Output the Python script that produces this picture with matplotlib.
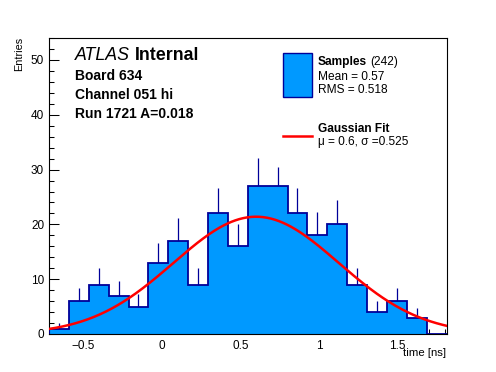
import numpy as np
import matplotlib
matplotlib.use("Agg")
import matplotlib.pyplot as plt
from matplotlib.patches import Rectangle
from matplotlib.lines import Line2D

plt.rcParams['font.family'] = ['Liberation Sans', 'DejaVu Sans']

# histogram
bin_lo, bin_hi, n_bins = -0.716, 1.81, 20
counts = [1, 6, 9, 7, 5, 13, 17, 9, 22, 16, 27, 27, 22, 18, 20, 9, 4, 6, 3, 0]
errors = [1.0, 2.4, 3.0, 2.6, 2.3, 3.6, 4.1, 3.0, 4.7, 4.0, 5.2, 3.4, 4.7, 4.2, 4.5, 3.0, 2.0, 2.4, 1.7, 0]

# gaussian fit
fit_amp, fit_mu, fit_sigma = 21.4, 0.6, 0.525

fill_col = '#0099ff'
line_col = '#000099'

counts = np.array(counts, float)
errors = np.array(errors, float)
edges = np.linspace(bin_lo, bin_hi, n_bins + 1)
centers = 0.5 * (edges[:-1] + edges[1:])

fig = plt.figure(figsize=(4.96, 3.72), dpi=100)
W, H = 496., 372.
ax = fig.add_axes([49 / W, 1 - 334 / H, 397.5 / W, 296.5 / H])

m = counts > 0
ax.vlines(centers[m], counts[m] - errors[m], counts[m] + errors[m], color=line_col, lw=0.9, zorder=1)
ax.stairs(counts, edges, fill=True, color=fill_col, zorder=2)
ax.stairs(counts, edges, color=line_col, lw=1.3, zorder=3)

xs = np.linspace(bin_lo, bin_hi, 400)
ax.plot(xs, fit_amp * np.exp(-0.5 * ((xs - fit_mu) / fit_sigma) ** 2), color='#ff0000', lw=1.8, zorder=4)

ax.set_xlim(bin_lo, bin_hi)
ax.set_ylim(0, 54.1)
ax.set_xticks([-0.5, 0, 0.5, 1, 1.5])
ax.set_xticklabels(['\u22120.5', '0', '0.5', '1', '1.5'])
ax.set_xticks(np.arange(-0.7, 1.81, 0.1), minor=True)
ax.set_yticks(np.arange(0, 51, 10))
ax.set_yticks(np.arange(0, 55, 2), minor=True)
ax.tick_params(which='both', direction='in', width=0.75, labelsize=8.5, top=False, right=False)
ax.tick_params(which='major', length=7.5)
ax.tick_params(which='minor', length=3.8)
ax.tick_params(axis='x', pad=4)
for s in ax.spines.values():
    s.set_linewidth(0.8)

fig.text(446 / W, 1 - 353 / H, 'time [ns]', ha='right', va='center', fontsize=8.2)
fig.text(19 / W, 1 - 37 / H, 'Entries', ha='center', va='top', rotation=90, fontsize=7.8)

# ATLAS label block
t = fig.text(75 / W, 1 - 56 / H, 'ATLAS', style='italic', fontsize=12.8, va='center')
fig.canvas.draw()
bb = t.get_window_extent()
fig.text((bb.x1 + 5) / W, 1 - 56 / H, 'Internal', weight='bold', fontsize=12.8, va='center')
for txt, yy in [('Board 634', 76), ('Channel 051 hi', 95), ('Run 1721 A=0.018', 114)]:
    fig.text(75 / W, 1 - yy / H, txt, weight='bold', fontsize=10, va='center')

# legend
fig.add_artist(Rectangle((283 / W, 1 - 97 / H), 29 / W, 44 / H, transform=fig.transFigure,
                         facecolor=fill_col, edgecolor=line_col, lw=1.0))
s = fig.text(318 / W, 1 - 62 / H, 'Samples', weight='bold', fontsize=8.6, va='center')
fig.canvas.draw()
bb = s.get_window_extent()
fig.text((bb.x1 + 3) / W, 1 - 62 / H, '(242)', fontsize=8.6, va='center')
fig.text(318 / W, 1 - 76.5 / H, 'Mean = 0.57', fontsize=8.6, va='center')
fig.text(318 / W, 1 - 90 / H, 'RMS = 0.518', fontsize=8.6, va='center')
fig.add_artist(Line2D([283 / W, 312 / W], [1 - 136 / H, 1 - 136 / H], transform=fig.transFigure,
                      color='#ff0000', lw=1.8))
fig.text(318 / W, 1 - 129 / H, 'Gaussian Fit', weight='bold', fontsize=8.6, va='center')
fig.text(318 / W, 1 - 141.5 / H, '\u03bc = 0.6, \u03c3 =0.525', fontsize=8.6, va='center')

fig.savefig('out.png', dpi=100)
